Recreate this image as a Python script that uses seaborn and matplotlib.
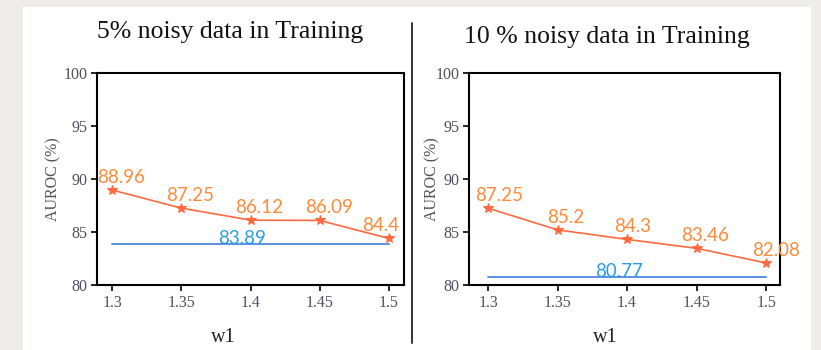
import matplotlib
matplotlib.use("Agg")
import matplotlib.pyplot as plt
import seaborn as sns
import pandas as pd
from matplotlib.patches import Rectangle

# w1 sweep values
w1 = [1.3, 1.35, 1.4, 1.45, 1.5]

# AUROC (%) with 5% noisy training data
auroc_5 = [88.96, 87.25, 86.12, 86.09, 84.4]
baseline_5 = 83.89

# AUROC (%) with 10% noisy training data
auroc_10 = [87.25, 85.2, 84.3, 83.46, 82.08]
baseline_10 = 80.77

titles = ["5% noisy data in Training", "10 % noisy data in Training"]
y_ticks = [80, 85, 90, 95, 100]
x_ticks = [1.3, 1.35, 1.4, 1.45, 1.5]
x_tick_labels = ["1.3", "1.35", "1.4", "1.45", "1.5"]

sns.set_theme(style="ticks")
plt.rcParams["font.family"] = ["Liberation Serif", "DejaVu Serif"]

LINE_ORANGE = "#ff6a40"
TEXT_ORANGE = "#ff8a3a"
LINE_BLUE = "#5a8fe2"
TEXT_BLUE = "#2a9fe6"
TICK_COLOR = "#4f4f60"

fig = plt.figure(figsize=(8.21, 3.5), dpi=100)
fig.patch.set_facecolor("#eeede9")
fig.add_artist(Rectangle((23 / 821, 0), (811 - 23) / 821, 1 - 7 / 350,
                         transform=fig.transFigure, facecolor="white",
                         edgecolor="none", zorder=0))

# divider between the two panels
fig.add_artist(plt.Line2D([412 / 821, 412 / 821], [1 - 343 / 350, 1 - 23 / 350],
                          transform=fig.transFigure, color="#333333", lw=1.4))

ax_left = fig.add_axes([97 / 821, 1 - 285 / 350, 307 / 821, 212 / 350])
ax_right = fig.add_axes([469 / 821, 1 - 285 / 350, 311 / 821, 212 / 350])

panels = [
    (ax_left, auroc_5, baseline_5, (1.289, 1.511), 0.41, -44, 230, 32),
    (ax_right, auroc_10, baseline_10, (1.2863, 1.510), 0.437, -37, 607, 37),
]

label_offsets = [
    [(9, 4), (9, 4), (9, 4), (9, 4), (-8, 4)],
    [(11, 4), (8, 4), (6, 4), (8, 4), (10, 4)],
]

for i, (ax, vals, base, xlim, xl_pos, yl_px, tx, ty) in enumerate(panels):
    df = pd.DataFrame({"w1": w1, "AUROC": vals})
    ax.set_facecolor("none")
    sns.lineplot(data=df, x="w1", y="AUROC", ax=ax, color=LINE_ORANGE,
                 marker="*", markersize=7, markeredgecolor=LINE_ORANGE,
                 linewidth=1.2, zorder=3)
    ax.plot([w1[0], w1[-1]], [base, base], color=LINE_BLUE, lw=1.4, zorder=2)

    for (x, v), off in zip(zip(w1, vals), label_offsets[i]):
        ax.annotate(f"{v:g}", (x, v), xytext=off, textcoords="offset pixels",
                    ha="center", va="bottom", color=TEXT_ORANGE, fontsize=13.5,
                    family=["Lato", "DejaVu Sans"], clip_on=False, zorder=4)
    ax.annotate(f"{base:g}", ((w1[0] + w1[-1]) / 2, base), xytext=(-8, -3),
                textcoords="offset pixels", ha="center", va="bottom",
                color=TEXT_BLUE, fontsize=13.5, family=["Lato", "DejaVu Sans"],
                zorder=4)

    ax.set_xlim(*xlim)
    ax.set_ylim(80, 100)
    ax.set_yticks(y_ticks)
    ax.set_xticks(x_ticks)
    ax.set_xticklabels(x_tick_labels)
    ax.tick_params(axis="both", direction="out", length=4, width=1.2,
                   color="black", labelsize=11.5, labelcolor=TICK_COLOR, pad=3)
    for s in ax.spines.values():
        s.set_visible(True)
        s.set_color("black")
        s.set_linewidth(1.5)

    ax.set_xlabel("w1", fontsize=14.5, color="#222222")
    ax.xaxis.set_label_coords(xl_pos, -52 / 212)
    ax.xaxis.label.set_va("center")
    ax.set_ylabel("AUROC (%)", fontsize=11.5, color="#555555")
    ax.yaxis.set_label_coords(yl_px / (307 if i == 0 else 311), 0.5)
    ax.yaxis.label.set_va("center")

    fig.text(tx / 821, 1 - ty / 350, titles[i], ha="center", va="center",
             fontsize=18.5, color="#111111")

fig.savefig("out.png", dpi=100, facecolor=fig.get_facecolor())
